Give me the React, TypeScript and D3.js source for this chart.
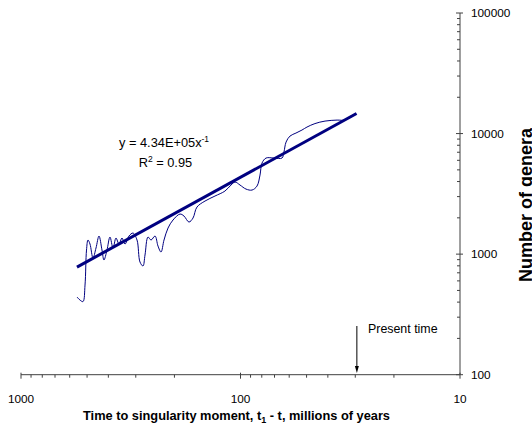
import React, { useEffect } from "react";
import * as d3 from "d3";

// Time to singularity moment, t1 - t (millions of years)
const timeMyr = [
  555.7, 538.5, 521.8, 510.9, 503.0, 495.2, 484.9, 469.9, 455.3, 441.2,
  427.6, 418.8, 405.8, 393.2, 380.9, 369.2, 357.7, 346.7, 335.9, 322.1,
  308.9, 296.1, 287.0, 278.1, 272.3, 263.9, 255.6, 245.1, 237.6, 230.2,
  223.1, 213.9, 203.0, 188.6, 180.9, 171.7, 164.6, 157.9, 145.1, 130.7,
  117.7, 110.5, 105.9, 100.5, 94.4, 88.6, 84.1, 81.5, 79.8, 76.5,
  70.4, 64.7, 63.4, 62.0, 59.5, 55.9, 52.5, 49.8, 45.8, 41.2,
  36.3, 33.4, 31.0,
];
// Number of genera
const genera = [
  441, 416, 404, 554, 1081, 1309, 1213, 928, 1124, 1413,
  1081, 894, 1081, 1386, 1124, 1360, 1213, 1360, 1213, 1413,
  1496, 1309, 860, 797, 983, 1386, 1309, 1413, 1167, 1041,
  1309, 1646, 1918, 2150, 2070, 1846, 1992, 2457, 2756, 3033,
  3336, 3741, 3962, 3741, 3465, 3400, 3670, 4528, 5692, 6266,
  6266, 6266, 7025, 8502, 9534, 10095, 10690, 11320, 12100, 12693,
  12937, 12937, 13900,
];

// Power-law fit y = a * x^b
const fitA = 4.34e5;
const fitB = -1;
const fitRange = [556, 29.6];

const xMajorTicks = [1000, 100, 10];
const yMajorTicks = [100, 1000, 10000, 100000];
const presentTime = 29.5;

const W = 532;
const H = 435;

export default function App() {
  useEffect(() => {
    document.body.style.margin = "0";
  }, []);

  const x = d3.scaleLog().domain([1000, 10]).range([21, 460]);
  const y = d3.scaleLog().domain([100, 100000]).range([374.7, 13]);

  const xMinor: number[] = [];
  [10, 100].forEach((d) => {
    for (let k = 2; k <= 9; k++) xMinor.push(d * k);
  });
  const yMinor: number[] = [];
  [100, 1000, 10000].forEach((d) => {
    for (let k = 2; k <= 9; k++) yMinor.push(d * k);
  });

  const pts: [number, number][] = timeMyr.map((t, i) => [x(t), y(genera[i])]);
  const curvePath = d3.line().curve(d3.curveCatmullRom.alpha(0.5))(pts) || "";

  const fitPts: [number, number][] = fitRange.map((t) => [x(t), y(fitA * Math.pow(t, fitB))]);
  const fitPath = d3.line()(fitPts) || "";

  const axisColor = "#404040";
  const font = "'Liberation Sans', Arial, sans-serif";
  const x0 = x(1000);
  const x1 = x(10);
  const yBase = y(100);
  const yAxisX = x(10);
  const px = x(presentTime);

  return (
    <svg width={W} height={H} style={{ position: "absolute", left: 0, top: 0, background: "#fff" }} fontFamily={font}>
      {/* x axis */}
      <line x1={x0} x2={x1} y1={yBase} y2={yBase} stroke={axisColor} strokeWidth={1} />
      {xMajorTicks.map((t) => (
        <line key={"xm" + t} x1={x(t)} x2={x(t)} y1={yBase - 2} y2={yBase + 4} stroke={axisColor} />
      ))}
      {xMinor.map((t) => (
        <line key={"xn" + t} x1={x(t)} x2={x(t)} y1={yBase} y2={yBase + 3} stroke={axisColor} />
      ))}
      {xMajorTicks.map((t) => (
        <text key={"xl" + t} x={x(t)} y={403.3} fontSize={11.8} textAnchor="middle" fill="#000">
          {t}
        </text>
      ))}
      {/* y axis */}
      <line x1={yAxisX} x2={yAxisX} y1={y(100000)} y2={yBase} stroke={axisColor} />
      {yMajorTicks.map((v) => (
        <line key={"ym" + v} x1={yAxisX - 4} x2={yAxisX + 3} y1={y(v)} y2={y(v)} stroke={axisColor} />
      ))}
      {yMinor.map((v) => (
        <line key={"yn" + v} x1={yAxisX - 3} x2={yAxisX} y1={y(v)} y2={y(v)} stroke={axisColor} />
      ))}
      {yMajorTicks.map((v) => (
        <text key={"yl" + v} x={471} y={y(v) + 4} fontSize={11.8} fill="#000">
          {v}
        </text>
      ))}
      {/* axis titles */}
      <text x={236.5} y={420} fontSize={12.8} fontWeight="bold" textAnchor="middle" fill="#000">
        Time to singularity moment, t
        <tspan fontSize={9} dy={3}>1</tspan>
        <tspan dy={-3}> - t, millions of years</tspan>
      </text>
      <text
        transform={`translate(532,205) rotate(-90)`}
        fontSize={18}
        fontWeight="bold"
        textAnchor="middle"
        fill="#000"
      >
        Number of genera
      </text>
      {/* data curve */}
      <path d={curvePath} fill="none" stroke="#000080" strokeWidth={1} />
      {/* fit line */}
      <path d={fitPath} fill="none" stroke="#000080" strokeWidth={3} />
      {/* equation */}
      <text x={119} y={146.5} fontSize={12.8} fill="#000">
        y = 4.34E+05x
        <tspan fontSize={8.5} dy={-5}>-1</tspan>
      </text>
      <text x={138.7} y={167} fontSize={12.8} fill="#000">
        R
        <tspan fontSize={8.5} dy={-5}>2</tspan>
        <tspan dy={5}> = 0.95</tspan>
      </text>
      {/* present time annotation */}
      <text x={368} y={333} fontSize={12.4} fill="#000">
        Present time
      </text>
      <line x1={px} x2={px} y1={326} y2={367} stroke="#000" strokeWidth={1} />
      <path d={`M${px - 2},${366} L${px + 2},${366} L${px},${373} Z`} fill="#000" />
    </svg>
  );
}
